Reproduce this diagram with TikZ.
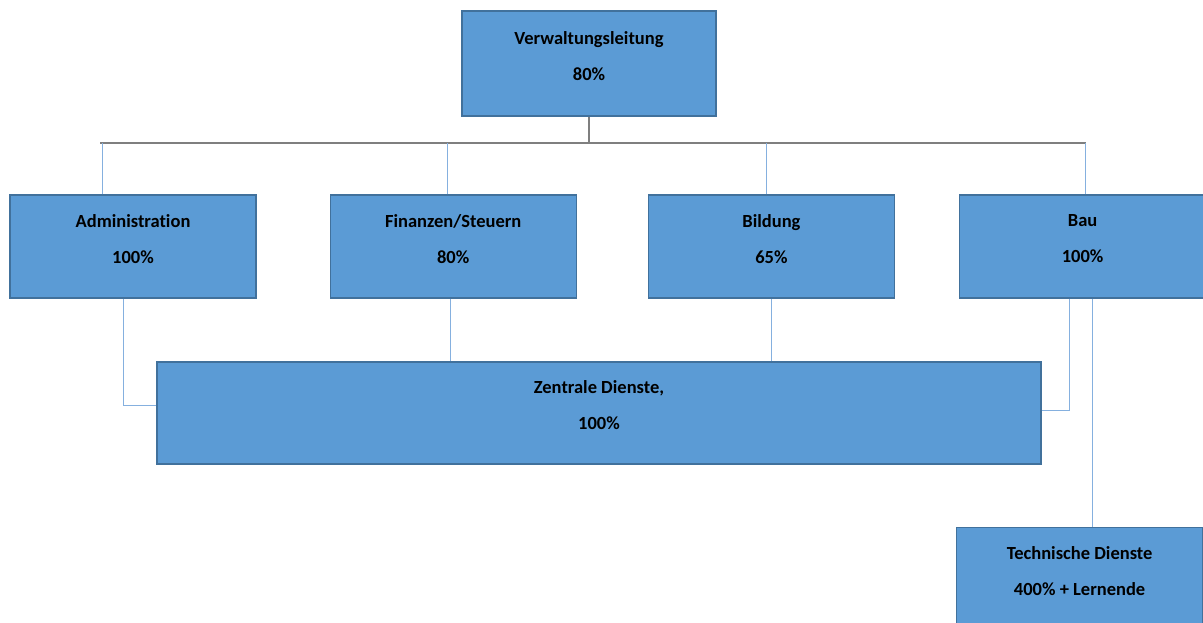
\documentclass[tikz,border=0pt]{standalone}
\usepackage{fontspec}
\setmainfont{Carlito}[Ligatures=NoCommon]
\usetikzlibrary{positioning}

\definecolor{boxfill}{HTML}{5B9BD5}
\definecolor{boxline}{HTML}{41719C}
\definecolor{linkblue}{HTML}{85B0DF}
\definecolor{busgray}{HTML}{7F7F7F}

\tikzstyle{unit} = [rectangle, minimum width=246pt, minimum height=103pt, align=center, fill=boxfill, draw=boxline, line width=1.2pt, font=\fontsize{18.5}{22}\selectfont\bfseries]
\tikzstyle{link} = [draw=linkblue, line width=1pt]
\tikzstyle{bus} = [draw=busgray, line width=1.4pt]

\newcommand{\boxtext}[2]{#1\\[14pt]#2\\[-7pt]\mbox{}}

\begin{document}
\begin{tikzpicture}[x=1pt,y=-1pt]
	\useasboundingbox (0,0) rectangle (1203,623);
	
	\def \gap {73pt}
	
	\node (head) [unit, minimum width=254pt, minimum height=105pt] at (589,63.5) {\boxtext{Verwaltungsleitung}{80\%}};
	\node (adm) [unit] at (133,246.5) {\boxtext{Administration}{100\%}};
	\node (fin) [unit, right=\gap of adm] {\boxtext{Finanzen/Steuern}{80\%}};
	\node (bil) [unit, right=71pt of fin] {\boxtext{Bildung}{65\%}};
	\node (bau) [unit, right=64pt of bil] {\boxtext{Bau}{100\%}};
	\node (zd) [unit, minimum width=884pt, minimum height=102pt] at (599,413) {\boxtext{Zentrale Dienste,}{100\%}};
	\node (tech) [unit, below=228pt of bau, xshift=-3pt] {\boxtext{Technische Dienste}{400\% + Lernende}};
	
	%bus
	\coordinate (busL) at (100,143);
	\coordinate (busR) at (1086,143);
	\draw [bus] (head.south) -- (head.south |- busL);
	\draw [bus] (busL) -- (busR);
	
	%links
	\draw [link] ([xshift=-31pt]adm.north) -- ([xshift=-31pt]adm.north |- busL);
	\draw [link] ([xshift=-6pt]fin.north) -- ([xshift=-6pt]fin.north |- busL);
	\draw [link] ([xshift=-5pt]bil.north) -- ([xshift=-5pt]bil.north |- busL);
	\draw [link] ([xshift=3pt]bau.north) -- ([xshift=3pt]bau.north |- busR);
	\draw [link] ([xshift=-10pt]adm.south) |- ([yshift=8pt]zd.west);
	\draw [link] ([xshift=-3pt]fin.south) -- ([xshift=-3pt]fin.south |- zd.north);
	\draw [link] (bil.south) -- (bil.south |- zd.north);
	\draw [link] ([xshift=-13pt]bau.south) |- ([yshift=3pt]zd.east);
	\draw [link] ([xshift=10pt]bau.south) -- ([xshift=10pt]bau.south |- tech.north);
	
\end{tikzpicture}
\end{document}
